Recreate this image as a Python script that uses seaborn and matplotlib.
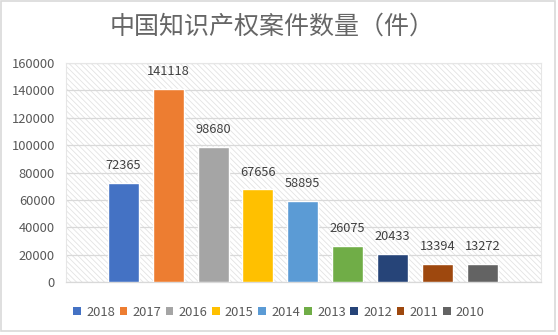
import matplotlib
matplotlib.use("Agg")
import matplotlib.pyplot as plt
import seaborn as sns
import pandas as pd
from matplotlib.patches import Rectangle, Patch

years = ["2018", "2017", "2016", "2015", "2014", "2013", "2012", "2011", "2010"]
cases = [72365, 141118, 98680, 67656, 58895, 26075, 20433, 13394, 13272]
colors = ["#4472C4", "#ED7D31", "#A5A5A5", "#FFC000", "#5B9BD5",
          "#70AD47", "#264478", "#9E480E", "#636363"]
yticks = [0, 20000, 40000, 60000, 80000, 100000, 120000, 140000, 160000]
title = "中国知识产权案件数量（件）"

sns.set_theme(style="white")
plt.rcParams['font.family'] = ['Noto Sans CJK SC', 'DejaVu Sans']
plt.rcParams['hatch.linewidth'] = 0.6

df = pd.DataFrame({"year": years, "cases": cases})

W, H = 558, 335
fig = plt.figure(figsize=(W / 100, H / 100), dpi=100)
ax = fig.add_axes([66 / W, 1 - 282 / H, (541 - 66) / W, (282 - 63) / H])

# hatched plot-area background
bg = Rectangle((0, 0), 1, 1, transform=ax.transAxes, facecolor="white",
               edgecolor="#E3E3E3", hatch="\\\\\\\\\\\\", linewidth=0, zorder=0)
ax.add_patch(bg)

sns.barplot(data=df, x="year", y="cases", hue="year", palette=colors,
            order=years, hue_order=years, dodge=False, width=0.69,
            legend=False, ax=ax, zorder=3, saturation=1)

for i, v in enumerate(cases):
    ax.annotate(str(v), (i, v), xytext=(0, 10), textcoords="offset points",
                ha="center", va="baseline", fontsize=9.2, color="#404040",
                zorder=4)

ax.set_xlim(-1.28, 9.31)
ax.set_ylim(0, 160000)
ax.set_yticks(yticks)
ax.set_yticklabels([str(t) for t in yticks], fontsize=9.3, color="#595959")
ax.set_xticks([])
ax.set_xlabel("")
ax.set_ylabel("")
ax.tick_params(axis="y", length=0, pad=8)
ax.yaxis.grid(True, color="#D9D9D9", linewidth=0.9, zorder=1)
ax.set_axisbelow(True)
for s in ["top", "right", "left"]:
    ax.spines[s].set_color("#E6E6E6")
    ax.spines[s].set_linewidth(0.8)
ax.spines["bottom"].set_color("#D9D9D9")
ax.spines["bottom"].set_linewidth(0.9)

fig.text(272 / W, 1 - 27 / H, title, ha="center", va="center",
         fontsize=18, color="#666666")

handles = [Patch(facecolor=c, edgecolor="none") for c in colors]
fig.legend(handles, years, loc="center", bbox_to_anchor=(279 / W, 1 - 312 / H),
           ncol=9, frameon=False, fontsize=9.3, handlelength=0.6,
           handleheight=0.6, handletextpad=0.4, columnspacing=0.35,
           labelcolor="#595959", borderaxespad=0, borderpad=0)

border = Rectangle((1 / W, 1 - 331 / H), 554 / W, 330 / H,
                   transform=fig.transFigure, fill=False,
                   edgecolor="#D9D9D9", linewidth=1.2)
fig.patches.append(border)

fig.savefig("out.png", dpi=100)
